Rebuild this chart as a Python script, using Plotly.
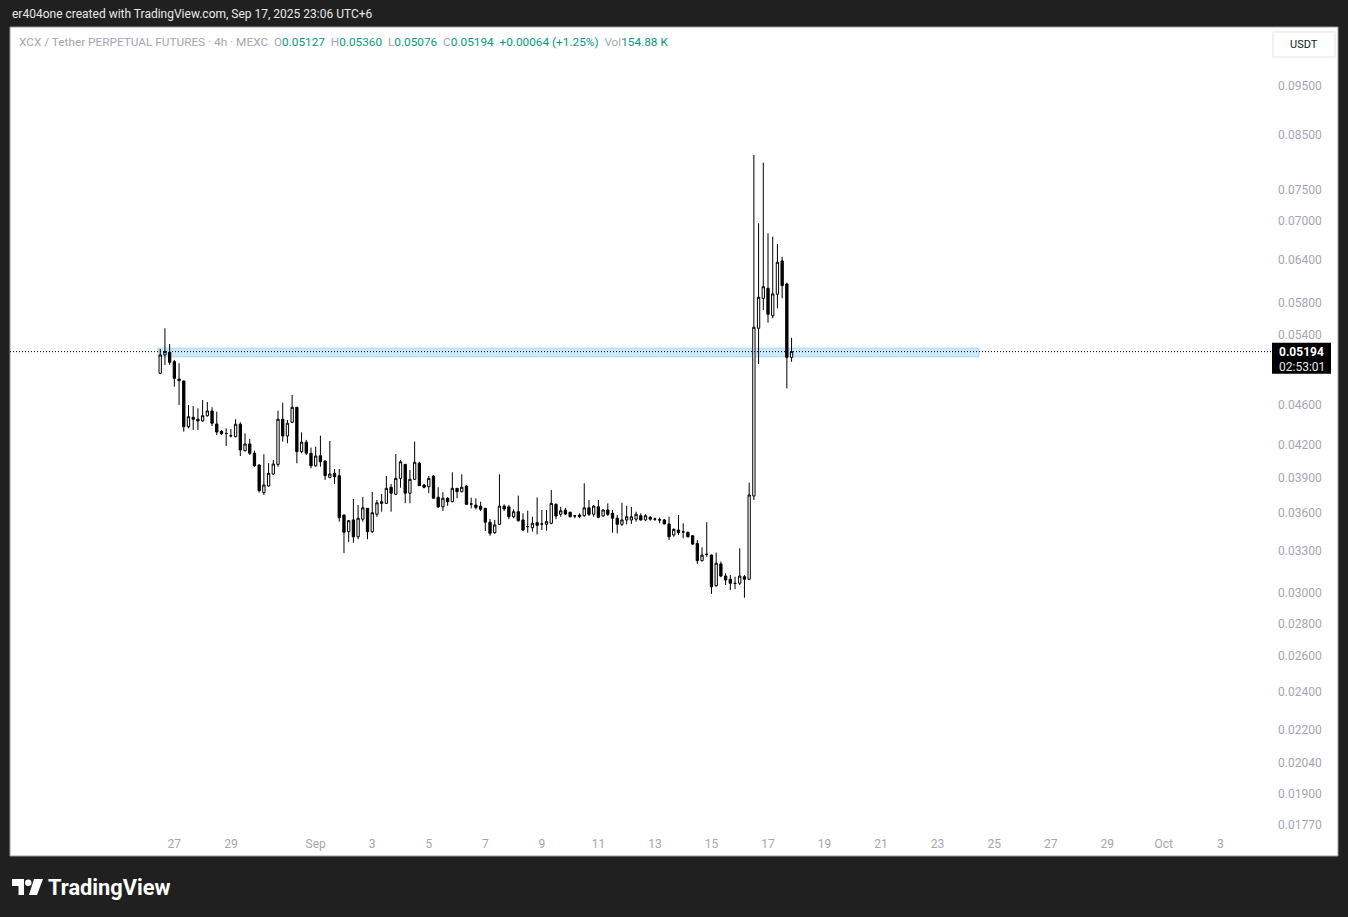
import math
import pandas as pd
import plotly.graph_objects as go

# ---------------- data (4h candles, XCX/USDT perp, MEXC) ----------------
first_bar = "2025-08-26 14:00"
opens = [0.04945,0.05155,0.05187,0.05077,0.04880,0.04859,0.04379,0.04474,0.04454,0.04437,
         0.04490,0.04539,0.04407,0.04334,0.04314,0.04291,0.04281,0.04404,0.04147,0.04211,
         0.04123,0.04014,0.03770,0.03827,0.03933,0.04020,0.04454,0.04288,0.04424,0.04577,
         0.04138,0.04228,0.04123,0.04007,0.04100,0.04051,0.03903,0.03939,0.03918,0.03583,
         0.03450,0.03543,0.03410,0.03549,0.03638,0.03450,0.03589,0.03693,0.03679,0.03816,
         0.03756,0.03894,0.04020,0.03765,0.03886,0.04030,0.03836,0.03821,0.03915,0.03731,
         0.03650,0.03722,0.03693,0.03807,0.03778,0.03827,0.03673,0.03665,0.03656,0.03638,
         0.03525,0.03442,0.03508,0.03656,0.03650,0.03569,0.03610,0.03543,0.03489,0.03481,
         0.03521,0.03511,0.03508,0.03516,0.03671,0.03589,0.03624,0.03605,0.03576,0.03583,
         0.03577,0.03642,0.03589,0.03650,0.03575,0.03624,0.03597,0.03557,0.03508,0.03543,
         0.03543,0.03549,0.03577,0.03543,0.03564,0.03550,0.03544,0.03543,0.03511,0.03424,
         0.03463,0.03448,0.03445,0.03418,0.03359,0.03230,0.03276,0.03271,0.03051,0.03206,
         0.03119,0.03096,0.03068,0.03068,0.03114,0.03096,0.03741,0.05478,0.05863,0.05998,
         0.05636,0.05918,0.06383,0.06057,0.05127]
highs = [0.05226,0.05477,0.05285,0.05097,0.05059,0.04862,0.04601,0.04590,0.04566,0.04654,
         0.04633,0.04577,0.04531,0.04347,0.04363,0.04357,0.04454,0.04424,0.04314,0.04260,
         0.04147,0.04020,0.04113,0.04030,0.04060,0.04542,0.04625,0.04447,0.04707,0.04580,
         0.04324,0.04250,0.04176,0.04185,0.04291,0.04055,0.04240,0.03978,0.03978,0.03585,
         0.03543,0.03716,0.03665,0.03732,0.03640,0.03776,0.03707,0.03759,0.03915,0.03845,
         0.04116,0.04060,0.04023,0.03969,0.04234,0.04044,0.03845,0.03915,0.03924,0.03816,
         0.03773,0.03731,0.03948,0.03810,0.03930,0.03836,0.03727,0.03722,0.03693,0.03640,
         0.03551,0.03543,0.03930,0.03671,0.03665,0.03630,0.03744,0.03597,0.03618,0.03569,
         0.03729,0.03624,0.03624,0.03793,0.03679,0.03650,0.03642,0.03610,0.03583,0.03597,
         0.03851,0.03707,0.03665,0.03707,0.03630,0.03679,0.03624,0.03583,0.03684,0.03659,
         0.03650,0.03610,0.03597,0.03589,0.03575,0.03562,0.03562,0.03551,0.03569,0.03476,
         0.03583,0.03516,0.03450,0.03424,0.03385,0.03329,0.03525,0.03275,0.03289,0.03223,
         0.03138,0.03126,0.03114,0.03322,0.03126,0.03856,0.08121,0.06954,0.07980,0.06797,
         0.06744,0.06634,0.06444,0.06076,0.05360]
lows = [0.04935,0.05039,0.05039,0.04796,0.04601,0.04330,0.04363,0.04347,0.04347,0.04430,
        0.04480,0.04386,0.04298,0.04298,0.04192,0.04275,0.04275,0.04097,0.04138,0.04107,
        0.03998,0.03770,0.03750,0.03821,0.03924,0.03998,0.04234,0.04218,0.04414,0.04030,
        0.04123,0.04107,0.03984,0.03998,0.03998,0.03880,0.03894,0.03845,0.03529,0.03286,
        0.03370,0.03364,0.03391,0.03529,0.03391,0.03439,0.03569,0.03610,0.03675,0.03610,
        0.03750,0.03813,0.03680,0.03680,0.03880,0.03828,0.03807,0.03765,0.03716,0.03642,
        0.03616,0.03659,0.03688,0.03722,0.03773,0.03665,0.03638,0.03630,0.03616,0.03455,
        0.03418,0.03432,0.03503,0.03616,0.03549,0.03557,0.03529,0.03455,0.03442,0.03450,
        0.03429,0.03463,0.03458,0.03508,0.03549,0.03569,0.03583,0.03564,0.03557,0.03557,
        0.03569,0.03575,0.03569,0.03557,0.03569,0.03575,0.03442,0.03437,0.03495,0.03508,
        0.03511,0.03529,0.03537,0.03535,0.03537,0.03535,0.03516,0.03508,0.03385,0.03410,
        0.03424,0.03398,0.03406,0.03347,0.03206,0.03223,0.03259,0.02995,0.03044,0.03110,
        0.03056,0.03022,0.03027,0.03056,0.02969,0.03091,0.03707,0.05051,0.05710,0.05548,
        0.05602,0.05731,0.05863,0.04778,0.05076]
closes = [0.05155,0.05194,0.05070,0.04888,0.04862,0.04379,0.04480,0.04454,0.04437,0.04490,
          0.04539,0.04414,0.04327,0.04310,0.04312,0.04289,0.04404,0.04154,0.04211,0.04123,
          0.04007,0.03787,0.03836,0.03939,0.04023,0.04454,0.04288,0.04414,0.04577,0.04138,
          0.04228,0.04123,0.04007,0.04097,0.04044,0.03918,0.03933,0.03909,0.03561,0.03445,
          0.03537,0.03410,0.03557,0.03642,0.03450,0.03602,0.03684,0.03679,0.03807,0.03765,
          0.03894,0.04044,0.03765,0.03886,0.04039,0.03830,0.03816,0.03894,0.03722,0.03650,
          0.03722,0.03693,0.03807,0.03778,0.03816,0.03671,0.03674,0.03645,0.03630,0.03525,
          0.03437,0.03503,0.03656,0.03632,0.03569,0.03610,0.03537,0.03463,0.03490,0.03516,
          0.03500,0.03510,0.03529,0.03679,0.03575,0.03618,0.03591,0.03569,0.03575,0.03569,
          0.03642,0.03589,0.03656,0.03564,0.03624,0.03589,0.03557,0.03508,0.03543,0.03569,
          0.03569,0.03589,0.03543,0.03577,0.03549,0.03549,0.03543,0.03511,0.03410,0.03468,
          0.03442,0.03447,0.03410,0.03354,0.03230,0.03271,0.03277,0.03044,0.03211,0.03119,
          0.03091,0.03068,0.03067,0.03119,0.03096,0.03750,0.05490,0.05877,0.06020,0.05654,
          0.05922,0.06364,0.06034,0.05127,0.05194]

# drawn rectangle (user zone)
zone_start, zone_end = "2025-08-26 12:00", "2025-09-24 13:00"
zone_low, zone_high = 0.05131, 0.05237

# axis ticks
price_ticks = [0.095, 0.085, 0.075, 0.070, 0.064, 0.058, 0.054, 0.046, 0.042, 0.039,
               0.036, 0.033, 0.030, 0.028, 0.026, 0.024, 0.022, 0.0204, 0.019, 0.0177]
date_ticks = ["2025-08-27", "2025-08-29", "2025-09-01", "2025-09-03", "2025-09-05",
              "2025-09-07", "2025-09-09", "2025-09-11", "2025-09-13", "2025-09-15",
              "2025-09-17", "2025-09-19", "2025-09-21", "2025-09-23", "2025-09-25",
              "2025-09-27", "2025-09-29", "2025-10-01", "2025-10-03"]
date_labels = ["27", "29", "Sep", "3", "5", "7", "9", "11", "13", "15", "17", "19",
               "21", "23", "25", "27", "29", "Oct", "3"]
x_view = ["2025-08-21 06:28", "2025-10-04 21:02"]
y_view = [0.017591, 0.10863]

times = pd.date_range(first_bar, periods=len(opens), freq="4h")

# ---------------- layout geometry ----------------
W, H = 1348, 917
ML, MR, MT, MB = 10, 77, 27, 89
PW = W - ML - MR
PH = H - MT - MB


def px(X):
    return (X - ML) / PW


def py(Y):
    return (H - MB - Y) / PH


def price_to_py(p):
    lo, hi = math.log10(y_view[0]), math.log10(y_view[1])
    return (math.log10(p) - lo) / (hi - lo)


FONT = "Roboto"
GRAY = "#a3a6af"
GREEN = "#089981"
BG = "#202020"

fig = go.Figure()
fig.add_trace(go.Candlestick(
    x=times, open=opens, high=highs, low=lows, close=closes,
    increasing=dict(line=dict(color="#000000", width=1), fillcolor="#ffffff"),
    decreasing=dict(line=dict(color="#000000", width=1), fillcolor="#000000"),
    whiskerwidth=0, hoverinfo="skip", showlegend=False,
))

last_close = closes[-1]
lp = price_to_py(last_close)          # paper y of last price
ppx = 1.0 / PH                        # one pixel in paper units (vertical)

shapes = [
    # white chart panel with thin border
    dict(type="rect", xref="paper", yref="paper", x0=px(10), x1=px(1338), y0=py(856), y1=py(27),
         fillcolor="#ffffff", line=dict(color="#9a9a9a", width=1), layer="below"),
    # zone
    dict(type="rect", xref="x", yref="y", x0=zone_start, x1=zone_end, y0=zone_low, y1=zone_high,
         fillcolor="rgba(33,150,243,0.22)", line=dict(color="rgba(33,150,243,0.25)", width=1),
         layer="below"),
    # last price dotted line
    dict(type="line", xref="paper", yref="y", x0=0, x1=1, y0=last_close, y1=last_close,
         line=dict(color="#000000", width=1, dash="1px,2px")),
    # last price label box
    dict(type="rect", xref="paper", yref="paper", y0=lp - 22 * ppx, y1=lp + 9 * ppx,
         x0=px(1272), x1=px(1331), fillcolor="#000000", line=dict(width=0)),
    # USDT button
    dict(type="rect", xref="paper", yref="paper", x0=px(1273), x1=px(1335), y0=py(57), y1=py(32),
         fillcolor="#ffffff", line=dict(color="#e0e3eb", width=1)),
    # TradingView logo glyph
    dict(type="rect", xref="paper", yref="paper", x0=px(12), x1=px(24), y0=py(886), y1=py(879),
         fillcolor="#ffffff", line=dict(width=0)),
    dict(type="rect", xref="paper", yref="paper", x0=px(18.5), x1=px(24), y0=py(895), y1=py(879),
         fillcolor="#ffffff", line=dict(width=0)),
    dict(type="circle", xref="paper", yref="paper", x0=px(25), x1=px(31.5), y0=py(886), y1=py(879.5),
         fillcolor="#ffffff", line=dict(width=0)),
    dict(type="path", xref="paper", yref="paper",
         path=f"M {px(34)} {py(879)} L {px(43)} {py(879)} L {px(37)} {py(895)} L {px(29)} {py(895)} Z",
         fillcolor="#ffffff", line=dict(width=0)),
]

sp = "\u00a0\u00a0"


def g(t):
    return f'<span style="color:{GRAY}">{t}</span>'


def v(t):
    return f'<span style="color:{GREEN}">{t}</span>'


header = (g("XCX / Tether PERPETUAL FUTURES · 4h · MEXC") + sp +
          g("O") + v("0.05127") + sp + g("H") + v("0.05360") + sp + g("L") + v("0.05076") + sp +
          g("C") + v("0.05194") + sp + v("+0.00064 (+1.25%)") + sp + g("Vol") + v("154.88\u00a0K"))

annotations = [
    dict(text="er404one created with TradingView.com, Sep 17, 2025 23:06 UTC+6",
         xref="paper", yref="paper", x=px(10), y=py(14), xanchor="left", yanchor="middle",
         showarrow=False, font=dict(family=FONT, size=12, color="#e8e8e8")),
    dict(text=header, xref="paper", yref="paper", x=px(17), y=py(42), xanchor="left",
         yanchor="middle", showarrow=False, font=dict(family=FONT, size=11.8, color=GRAY)),
    dict(text="USDT", xref="paper", yref="paper", x=px(1304), y=py(44.5), xanchor="center",
         yanchor="middle", showarrow=False, font=dict(family=FONT, size=11, color="#131722")),
    dict(text="<b>0.05194</b>", xref="paper", yref="paper", x=px(1277), y=lp,
         xanchor="left", yanchor="middle", showarrow=False,
         font=dict(family=FONT, size=12, color="#ffffff")),
    dict(text="02:53:01", xref="paper", yref="paper", x=px(1277), y=lp - 15 * ppx,
         xanchor="left", yanchor="middle", showarrow=False,
         font=dict(family=FONT, size=12, color="#e8e8e8")),
    dict(text="<b>TradingView</b>", xref="paper", yref="paper", x=px(46), y=py(887),
         xanchor="left", yanchor="middle", showarrow=False,
         font=dict(family=FONT, size=21.8, color="#ffffff")),
]

fig.update_layout(
    width=W, height=H,
    margin=dict(l=ML, r=MR, t=MT, b=MB, pad=0),
    paper_bgcolor=BG, plot_bgcolor="#ffffff",
    shapes=shapes, annotations=annotations,
    showlegend=False,
    xaxis=dict(type="date", range=x_view, rangeslider=dict(visible=False),
               showgrid=False, zeroline=False, showline=False,
               tickmode="array", tickvals=[d + " 02:00" for d in date_ticks], ticktext=date_labels,
               ticks="", ticklabelstandoff=7,
               tickfont=dict(family=FONT, size=12, color=GRAY), fixedrange=True),
    yaxis=dict(type="log", side="right",
               range=[math.log10(y_view[0]), math.log10(y_view[1])],
               showgrid=False, zeroline=False, showline=False,
               tickmode="array", tickvals=price_ticks, ticktext=[f"{t:.5f}" for t in price_ticks],
               ticks="", ticklabelstandoff=6,
               tickfont=dict(family=FONT, size=12, color=GRAY), fixedrange=True),
)

fig.write_html(
    "out.html",
    config={"displayModeBar": False},
    post_script="document.body.style.margin='0px';document.body.style.backgroundColor='#202020';",
)
